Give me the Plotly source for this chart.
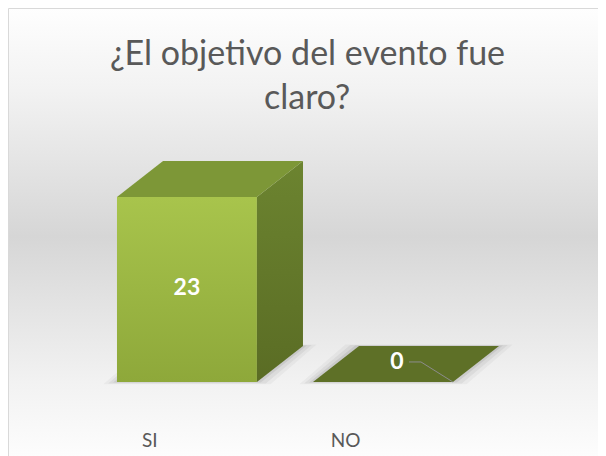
import plotly.graph_objects as go

# data
categorias = ["SI", "NO"]
valores = [23, 0]
titulo = ["¿El objetivo del evento fue", "claro?"]

# estilo de las cajas 3D (en unidades de los ejes)
ancho = 0.714       # ancho de la cara frontal, en categorias
prof_x = 0.235      # desplazamiento de la profundidad en x
prof_y = 4.48       # desplazamiento de la profundidad en y
desvio_tick = 0.19  # Excel corre las etiquetas hacia la izquierda

c_frente = [[0, "#8ea83a"], [1, "#a8c44c"]]
c_lado = [[0, "#5a6c24"], [1, "#6c8430"]]
c_arriba = "#7d9737"
c_arriba_cero = "#5e7027"

# la pagina html deja 8px de margen en el body
W, H = 598, 448

fig = go.Figure()

# fondo con degradado y borde (subplot de fondo, cubre toda la figura)
bx = [0.5 / W, 1.05, 1.05, 0.5 / W, 0.5 / W]
by = [-0.02, -0.02, 1 - 0.5 / H, 1 - 0.5 / H, -0.02]
fig.add_trace(go.Scatter(
    x=bx, y=by, mode="lines", fill="toself",
    line=dict(color="#d9d9d9", width=1),
    fillgradient=dict(type="vertical", colorscale=[
        [0, "#fefefe"], [0.18, "#f2f2f2"], [0.5, "#d6d6d6"],
        [0.82, "#f2f2f2"], [1, "#fefefe"]]),
    hoverinfo="skip", showlegend=False, xaxis="x", yaxis="y"))


def poligono(px, py, **kw):
    fig.add_trace(go.Scatter(
        x=px + [px[0]], y=py + [py[0]], mode="lines", fill="toself",
        line=dict(width=0), hoverinfo="skip", showlegend=False,
        xaxis="x2", yaxis="y2", **kw))


for i, v in enumerate(valores):
    x0, x1 = i - ancho / 2, i + ancho / 2
    # sombra difusa en la base
    for e, a in [(0.07, 0.035), (0.045, 0.05), (0.02, 0.07)]:
        ey = e * 4
        poligono([x0 - e, x1 + e, x1 + prof_x + e, x0 + prof_x - e],
                 [-ey, -ey, prof_y + ey * 0.6, prof_y + ey * 0.6],
                 fillcolor=f"rgba(0,0,0,{a})")
    if v > 0:
        # cara frontal
        poligono([x0, x1, x1, x0], [0, 0, v, v],
                 fillgradient=dict(type="vertical", colorscale=c_frente))
        # cara lateral
        poligono([x1, x1 + prof_x, x1 + prof_x, x1], [0, prof_y, v + prof_y, v],
                 fillgradient=dict(type="vertical", colorscale=c_lado))
    # cara superior
    poligono([x0, x1, x1 + prof_x, x0 + prof_x], [v, v, v + prof_y, v + prof_y],
             fillcolor=c_arriba if v > 0 else c_arriba_cero)

# etiquetas de datos
for i, v in enumerate(valores):
    if v > 0:
        fig.add_trace(go.Scatter(
            x=[i], y=[v / 2], mode="text", text=[str(v)],
            textfont=dict(family="Lato", size=23, color="white", weight="bold"),
            hoverinfo="skip", showlegend=False, xaxis="x2", yaxis="y2"))
    else:
        # etiqueta con linea guia hacia la esquina de la caja
        fig.add_trace(go.Scatter(
            x=[i + 0.133, i + 0.194, i + ancho / 2], y=[v + 2.49, v + 2.49, v],
            mode="lines", line=dict(color="#8c8c8c", width=1),
            hoverinfo="skip", showlegend=False, xaxis="x2", yaxis="y2"))
        fig.add_trace(go.Scatter(
            x=[i + 0.071], y=[v + 2.36], mode="text", text=[str(v)],
            textfont=dict(family="Lato", size=23, color="white", weight="bold"),
            hoverinfo="skip", showlegend=False, xaxis="x2", yaxis="y2"))

for k, linea in enumerate(titulo):
    fig.add_annotation(
        text=linea, xref="paper", yref="paper", x=0.5, y=1 - (43 + 45 * k) / H,
        xanchor="center", yanchor="middle", showarrow=False,
        font=dict(family="Lato", size=34, color="#595959"))

fig.update_layout(
    width=W, height=H,
    margin=dict(l=0, r=0, t=0, b=0),
    paper_bgcolor="white", plot_bgcolor="rgba(0,0,0,0)",
    showlegend=False,
    xaxis=dict(domain=[0, 1], range=[0, 1], visible=False, fixedrange=True),
    yaxis=dict(domain=[0, 1], range=[0, 1], visible=False, fixedrange=True),
    xaxis2=dict(domain=[0, 1], range=[-0.913, 2.138], anchor="y2",
                showgrid=False, zeroline=False, showline=False, ticks="",
                tickvals=[i - desvio_tick for i in range(len(categorias))],
                ticktext=categorias,
                tickfont=dict(family="Lato", size=19, color="#595959")),
    yaxis2=dict(domain=[29 / H, 1], range=[-5.6, 46.52], anchor="x2",
                visible=False),
)

fig.write_html("out.html")
